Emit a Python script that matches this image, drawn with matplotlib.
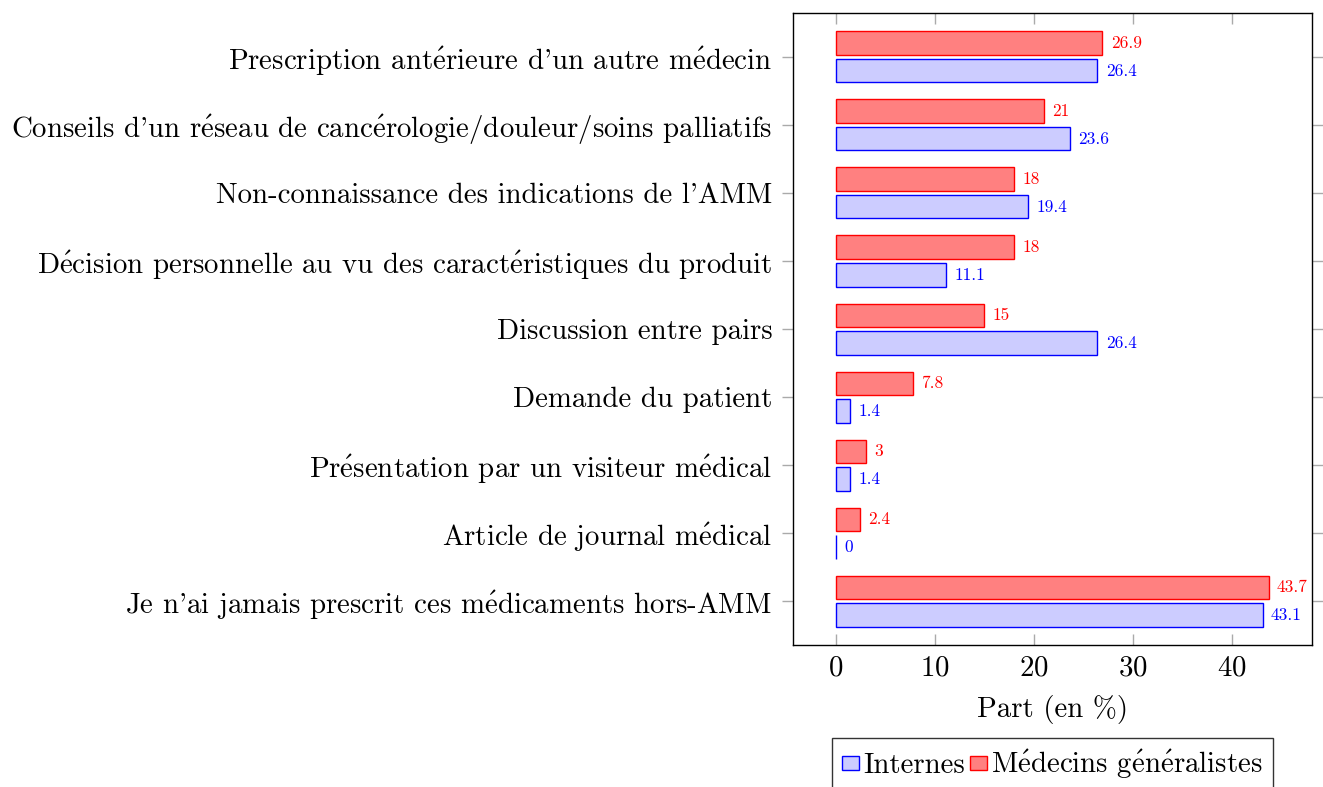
import matplotlib
matplotlib.use("Agg")
import matplotlib.pyplot as plt
from matplotlib.patches import Patch
import numpy as np

# Données (de haut en bas)
categories = [
    "Prescription antérieure d'un autre médecin",
    "Conseils d'un réseau de cancérologie/douleur/soins palliatifs",
    "Non-connaissance des indications de l'AMM",
    "Décision personnelle au vu des caractéristiques du produit",
    "Discussion entre pairs",
    "Demande du patient",
    "Présentation par un visiteur médical",
    "Article de journal médical",
    "Je n'ai jamais prescrit ces médicaments hors-AMM",
]
internes = [26.4, 23.6, 19.4, 11.1, 26.4, 1.4, 1.4, 0, 43.1]
generalistes = [26.9, 21, 18, 18, 15, 7.8, 3, 2.4, 43.7]

plt.rcParams['font.family'] = ['cmr10', 'DejaVu Serif']
plt.rcParams['mathtext.fontset'] = 'cm'
plt.rcParams['axes.formatter.use_mathtext'] = True


def tex(s):
    # cmr10 n'a pas de é : accent construit en mathtext
    return (s.replace("é", r"$\acute{\mathrm{e}}$")
             .replace("É", r"$\acute{\mathrm{E}}$"))


fig = plt.figure(figsize=(13.23, 7.87), dpi=100)
ax = fig.add_axes([0.5994, 0.1804, 0.3923, 0.8031])

y = np.arange(len(categories))
h = 0.34
ax.barh(y + 0.205, internes, height=h, color='#ccccff', edgecolor='blue', linewidth=1)
ax.barh(y - 0.205, generalistes, height=h, color='#ff8080', edgecolor='red', linewidth=1)

for i in range(len(categories)):
    ax.annotate(f"{internes[i]:g}", (internes[i], y[i] + 0.205), xytext=(6, 0),
                textcoords='offset points', va='center', ha='left', color='blue', fontsize=12.5)
    ax.annotate(f"{generalistes[i]:g}", (generalistes[i], y[i] - 0.205), xytext=(6, 0),
                textcoords='offset points', va='center', ha='left', color='red', fontsize=12.5)

ax.set_xlim(-4.34, 48.08)
ax.set_ylim(len(categories) - 1 + 0.647, -0.647)
ax.set_yticks(y)
ax.set_yticklabels([tex(c) for c in categories], fontsize=20.8)
ax.set_xticks([0, 10, 20, 30, 40])
ax.tick_params(axis='x', direction='in', top=True, length=8, width=1, color='#aaaaaa',
               labelsize=20.8, pad=7)
ax.tick_params(axis='y', direction='out', right=True, length=8, width=1, color='#aaaaaa', pad=7)
ax.set_xlabel("Part (en %)", fontsize=20.8, labelpad=10)

for s in ax.spines.values():
    s.set_linewidth(1)

handles = [Patch(facecolor='#ccccff', edgecolor='blue'), Patch(facecolor='#ff8080', edgecolor='red')]
ax.legend(handles, ["Internes", tex("Médecins généralistes")], loc='upper center',
          bbox_to_anchor=(0.5, -0.147), ncol=2, fontsize=20.8, frameon=True, fancybox=False,
          edgecolor='black', handlelength=0.6, handleheight=0.35, handletextpad=0.15,
          columnspacing=0.15, borderpad=0.35, borderaxespad=0)

fig.savefig("out.png", dpi=100)
